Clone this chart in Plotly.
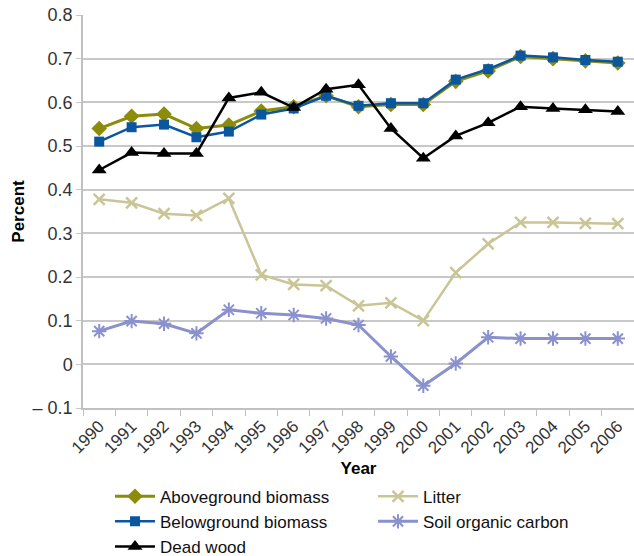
import plotly.graph_objects as go

years = [str(y) for y in range(1990, 2007)]
aboveground = [0.540, 0.568, 0.573, 0.540, 0.548, 0.580, 0.590, 0.615, 0.590, 0.595, 0.595, 0.648, 0.672, 0.705, 0.700, 0.695, 0.690]
belowground = [0.510, 0.543, 0.549, 0.520, 0.533, 0.572, 0.586, 0.615, 0.592, 0.598, 0.598, 0.652, 0.676, 0.707, 0.703, 0.697, 0.693]
dead_wood = [0.445, 0.485, 0.483, 0.483, 0.610, 0.623, 0.588, 0.630, 0.640, 0.540, 0.472, 0.523, 0.553, 0.590, 0.586, 0.583, 0.579]
litter = [0.378, 0.370, 0.345, 0.341, 0.380, 0.205, 0.183, 0.180, 0.134, 0.141, 0.100, 0.210, 0.276, 0.325, 0.325, 0.323, 0.322]
soil = [0.076, 0.099, 0.093, 0.071, 0.125, 0.117, 0.113, 0.105, 0.090, 0.018, -0.049, 0.002, 0.062, 0.059, 0.059, 0.059, 0.059]

y_tickvals = [-0.1, 0, 0.1, 0.2, 0.3, 0.4, 0.5, 0.6, 0.7, 0.8]
y_ticktext = ["\u2013 0.1", "0", "0.1", "0.2", "0.3", "0.4", "0.5", "0.6", "0.7", "0.8"]

FONT = "Liberation Sans, Arial, sans-serif"

fig = go.Figure()
fig.add_trace(go.Scatter(x=years, y=aboveground, name="Aboveground biomass", mode="lines+markers",
                         line=dict(color="#8c8c0a", width=3),
                         marker=dict(symbol="diamond", size=12, color="#8c8c0a"), legendrank=1))
fig.add_trace(go.Scatter(x=years, y=belowground, name="Belowground biomass", mode="lines+markers",
                         line=dict(color="#0a57a0", width=2.5),
                         marker=dict(symbol="square", size=10, color="#0a57a0"), legendrank=3))
fig.add_trace(go.Scatter(x=years, y=dead_wood, name="Dead wood", mode="lines+markers",
                         line=dict(color="#000000", width=2.5),
                         marker=dict(symbol="triangle-up", size=13, color="#000000"), legendrank=5))
fig.add_trace(go.Scatter(x=years, y=litter, name="Litter", mode="lines+markers",
                         line=dict(color="#c9c597", width=2.5),
                         marker=dict(symbol="x-thin", size=11, color="#c9c597",
                                     line=dict(color="#c9c597", width=2.5)), legendrank=2))
fig.add_trace(go.Scatter(x=years, y=soil, name="Soil organic carbon", mode="lines+markers",
                         line=dict(color="#8a91cc", width=3),
                         marker=dict(symbol="asterisk", size=12, color="#8a91cc",
                                     line=dict(color="#8a91cc", width=2)), legendrank=4))

fig.update_layout(
    width=634, height=556,
    margin=dict(l=83, r=0, t=15, b=148),
    paper_bgcolor="white", plot_bgcolor="white",
    font=dict(family=FONT, size=17, color="#333333"),
    xaxis=dict(type="category", range=[-0.5, len(years) - 0.5],
               tickson="boundaries", ticks="outside", ticklen=6,
               tickcolor="#c0c0c0", tickangle=-45, showgrid=False, automargin=False,
               showline=True, linecolor="#c0c0c0", linewidth=1.5,
               tickfont=dict(size=17, color="#333333"),
               title=dict(text="<b>Year</b>", font=dict(size=17, color="#000000"), standoff=6)),
    yaxis=dict(range=[-0.1, 0.8], tickvals=y_tickvals, ticktext=y_ticktext, automargin=False,
               showgrid=True, gridcolor="#c8c8c8", gridwidth=1.5,
               ticks="outside", ticklen=5, tickcolor="#c8c8c8",
               showline=True, linecolor="#c0c0c0", linewidth=1.5, zeroline=False,
               tickfont=dict(size=18, color="#333333"),
               title=dict(text="<b>Percent</b>", font=dict(size=17, color="#000000"), standoff=4)),
    legend=dict(orientation="h", xref="container", yref="container",
                x=0.1735, xanchor="left", y=0.139, yanchor="top",
                entrywidth=208, entrywidthmode="pixels",
                font=dict(size=17, color="#111111"), itemwidth=40,
                bgcolor="rgba(0,0,0,0)", tracegroupgap=0),
)

fig.write_html("out.html", config={"displayModeBar": False},
               post_script="document.body.style.margin='0';document.body.style.overflow='hidden';")
